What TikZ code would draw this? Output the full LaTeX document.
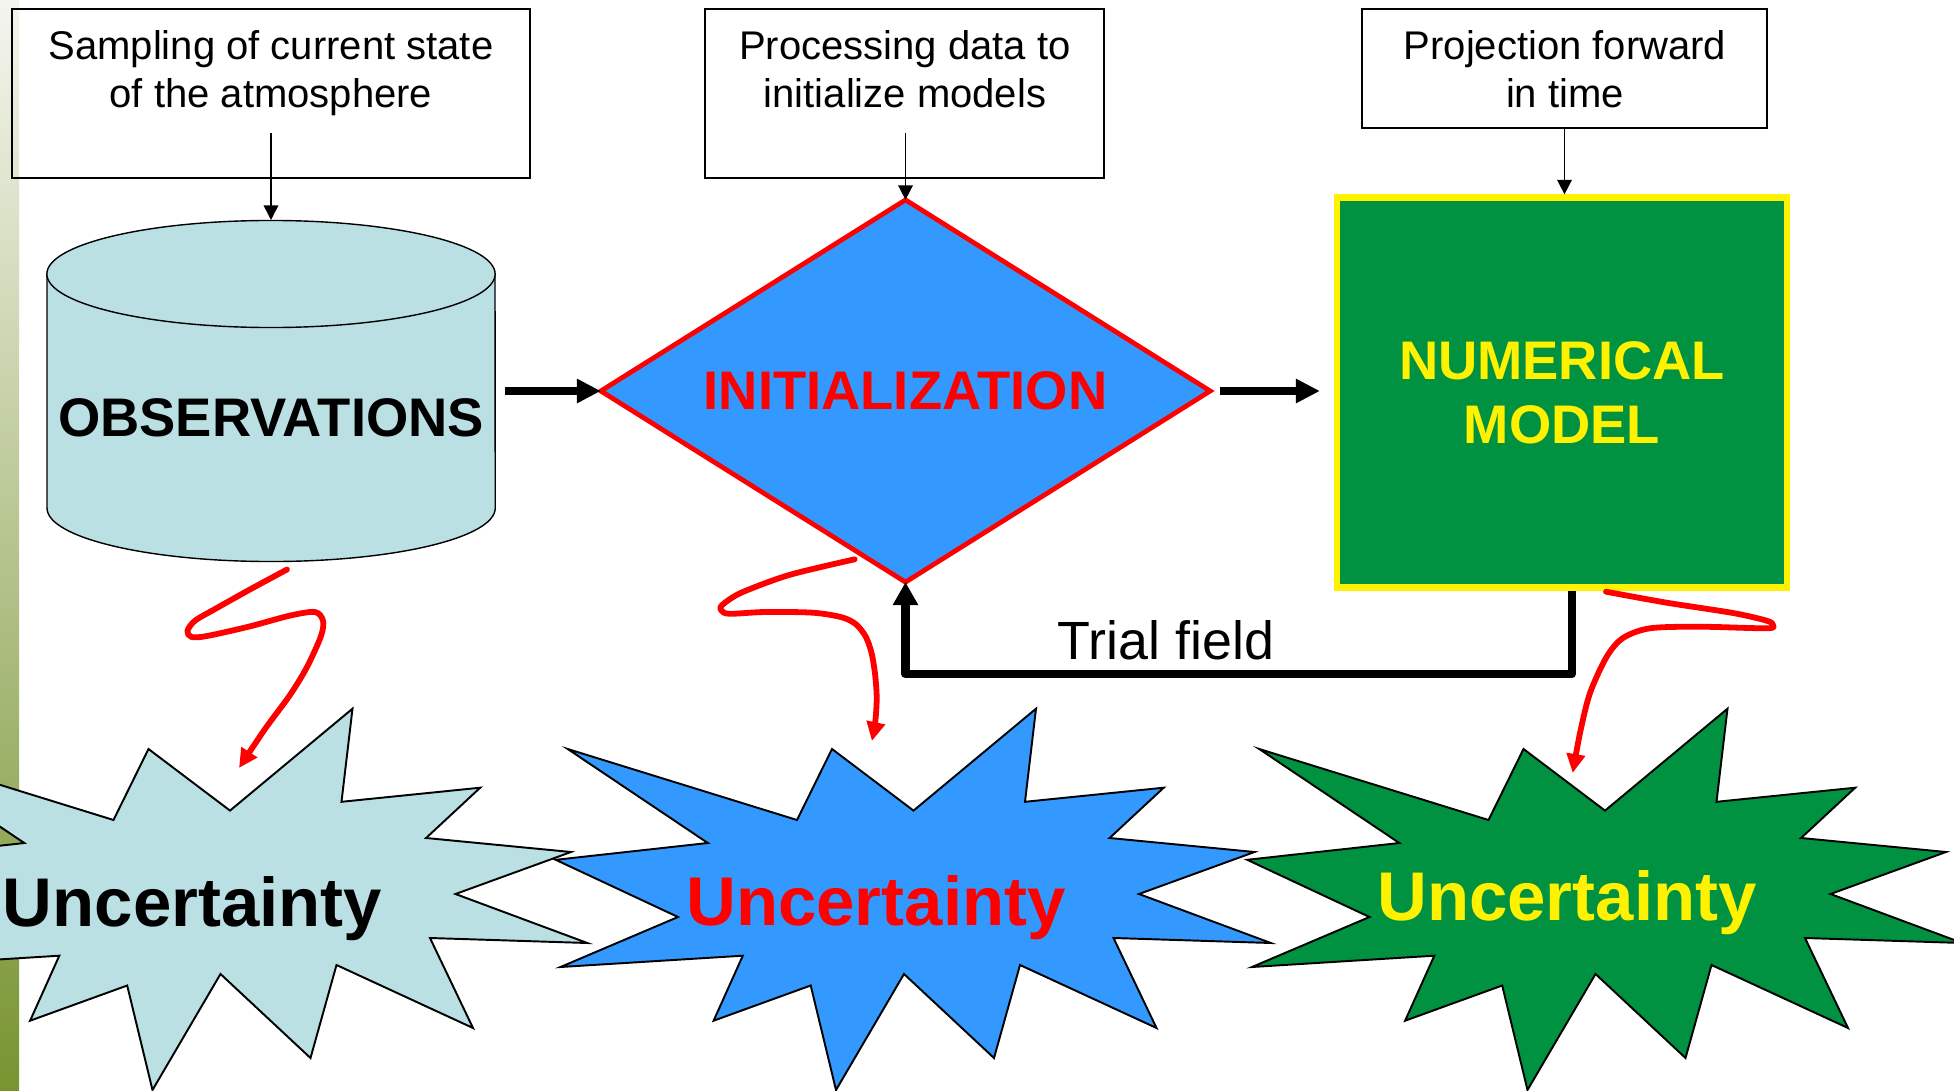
\documentclass[tikz,border=0pt]{standalone}
\usepackage{fontspec}
\setmainfont{Liberation Sans}
\usetikzlibrary{arrows.meta,shapes.geometric}

\definecolor{obsfill}{RGB}{187,224,227}
\definecolor{initfill}{RGB}{51,153,255}
\definecolor{modelfill}{RGB}{0,146,64}
\definecolor{bartop}{RGB}{244,245,238}
\definecolor{barbottom}{RGB}{120,148,48}
\definecolor{barmid}{RGB}{148,170,91}

\tikzset{
  infobox/.style={draw=black, line width=0.45pt, rectangle, inner sep=0pt, outer sep=0pt},
  infotext/.style={font=\fontsize{11.38pt}{13.66pt}\selectfont, align=center, inner sep=0pt, anchor=north},
  thinarrow/.style={draw=black, line width=0.45pt, -{Triangle[length=0.145cm, width=0.145cm]}},
  flowarrow/.style={draw=black, line width=2.1pt, -{Triangle[length=0.24cm, width=0.23cm]}},
  feedback/.style={draw=black, line width=2.3pt, line join=round, -{Triangle[length=0.23cm, width=0.24cm]}},
  errarrow/.style={draw=red, line width=1.65pt, line cap=round, line join=round, -{Triangle[length=0.19cm, width=0.18cm]}},
  bigbold/.style={font=\fontsize{15.45pt}{18.21pt}\selectfont\bfseries, inner sep=0pt},
  burstlabel/.style={font=\fontsize{19.6pt}{24pt}\selectfont\bfseries, inner sep=0pt, anchor=base},
  cylline/.style={draw=black, line width=0.4pt},
  burst/.style={draw=black, line width=0.55pt, line join=miter},
  pics/starburst/.style={code={
    \path[burst, fill=#1]
      (-308.3,749) -- (-79,820) -- (-44,749) -- (37.5,810.6) -- (160,708.7)
      -- (149,801.8) -- (287.7,787.7) -- (233.6,838) -- (378.5,852)
      -- (263,894) -- (394.8,943) -- (237.5,938) -- (280.5,1028)
      -- (144,965) -- (118,1058) -- (28,974) -- (-40,1090)
      -- (-65.3,985.5) -- (-162.4,1020.7) -- (-133.2,955.7) -- (-315.5,967)
      -- (-198,917) -- (-320.3,859.8) -- (-168.2,843) -- cycle;
  }},
}

\begin{document}
\begin{tikzpicture}[x=0.01cm, y=-0.01cm]
  \useasboundingbox (0,0) rectangle (1954,1091);
  \clip (0,0) rectangle (1954,1091);
  \fill[white] (0,0) rectangle (1954,1091);

  % shaded side strip
  \shade[top color=bartop, bottom color=barbottom] (0,0) rectangle (19,1091);
  \fill[barmid] (0,826.7) -- (24.3,843) -- (0,845.7) -- cycle;

  % explanatory boxes
  \node[infobox, minimum width=5.18cm, minimum height=1.69cm] (box1) at (271,93.5) {};
  \node[infobox, minimum width=3.99cm, minimum height=1.69cm] (box2) at (904.5,93.5) {};
  \node[infobox, minimum width=4.05cm, minimum height=1.19cm] (box3) at (1564.5,68.5) {};
  \node[infotext] (t1) at (271,30) {Sampling of current state\\of the atmosphere};
  \node[infotext] (t2) at (905,30) {Processing data to\\initialize models};
  \node[infotext] (t3) at (1565,30) {Projection forward\\in time};

  % observations cylinder
  \fill[obsfill] (47,274) rectangle (495,508);
  \fill[obsfill] (271,508) ellipse [x radius=2.24cm, y radius=0.535cm];
  \draw[cylline] (47,274) -- (47,508) arc[start angle=180, end angle=360, x radius=2.24cm, y radius=0.535cm] -- (495,274);
  \filldraw[cylline, fill=obsfill] (271,274) ellipse [x radius=2.24cm, y radius=0.535cm];
  \node[bigbold, anchor=base] (obs) at (271,436) {OBSERVATIONS};
  \coordinate (obstop) at (271,220);
  \coordinate (obsright) at (495,391);

  % initialization diamond
  \node[diamond, draw=red, fill=initfill, line width=1.35pt, aspect=1.594,
        minimum width=6.09cm, minimum height=3.82cm, inner sep=0pt, outer sep=0pt,
        text=red, bigbold] (dia) at (905.5,391) {INITIALIZATION};

  % numerical model
  \node[rectangle, draw=yellow, fill=modelfill, line width=1.9pt,
        minimum width=4.5cm, minimum height=3.9cm, inner sep=0pt, outer sep=0pt,
        text=yellow, bigbold, align=center] (num) at (1562,392.5) {NUMERICAL\\MODEL};

  % uncertainty bursts
  \pic at (192.5,0) {starburst=obsfill};
  \pic at (876,0) {starburst=initfill};
  \pic at (1567.5,0) {starburst=modelfill};
  \node[burstlabel, text=black] (u1) at (192.5,926) {Uncertainty};
  \node[burstlabel, text=red] (u2) at (876,925.5) {Uncertainty};
  \node[burstlabel, text=yellow] (u3) at (1567,920.5) {Uncertainty};

  % connectors from the boxes
  \coordinate (s1) at (271,133);
  \coordinate (s2) at (905.5,133);
  \draw[thinarrow] (s1) -- (obstop);
  \draw[thinarrow] (s2) -- (dia.north);
  \draw[thinarrow, shorten >=0.03cm] (box3.south) -- (box3.south |- num.north);

  % main flow
  \draw[flowarrow, shorten <=0.1cm] (obsright) -- (dia.west);
  \draw[flowarrow, shorten <=0.1cm, shorten >=0.17cm] (dia.east) -- (dia.east -| num.west);

  % feedback loop
  \draw[feedback, shorten <=0.035cm] ([xshift=0.097cm]num.south) -- ++(0,86.5) -| (dia.south);
  \node[font=\fontsize{15.3pt}{18pt}\selectfont, inner sep=0pt, anchor=base] (trial) at (1166,659) {Trial field};

  % error paths
  \coordinate (e1s) at (287,569.5);
  \coordinate (e1t) at (239,768);
  \coordinate (e2s) at (854.7,559.3);
  \coordinate (e2t) at (871.9,741);
  \coordinate (e3s) at (1606,591.7);
  \coordinate (e3t) at (1572.7,773);
  \draw[errarrow] plot[smooth, tension=0.5] coordinates {(e1s) (249,590) (215.6,608.7) (195,620.7) (187.4,631) (191.5,637) (207,636) (249,626.6) (290,615.6) (315,612) (323,620.7) (321,636) (307,667) (290,695) (265,729) (e1t)};
  \draw[errarrow] plot[smooth, tension=0.5] coordinates {(e2s) (789.2,575) (741.3,592.7) (722.2,605) (721.2,610.3) (729.4,613.8) (765,612) (813,612.7) (841.8,617.3) (856,624.3) (865.7,636.6) (871.4,652.4) (875,673.5) (876.7,698) (875.2,722.7) (e2t)};
  \draw[errarrow] plot[smooth, tension=0.5] coordinates {(e3s) (1666.7,602.7) (1733,613) (1766.7,620.7) (1773,625) (1766.7,628.3) (1700,626.7) (1650,628.3) (1623,638) (1606.7,656.7) (1590,693) (1580,733) (e3t)};
\end{tikzpicture}
\end{document}
